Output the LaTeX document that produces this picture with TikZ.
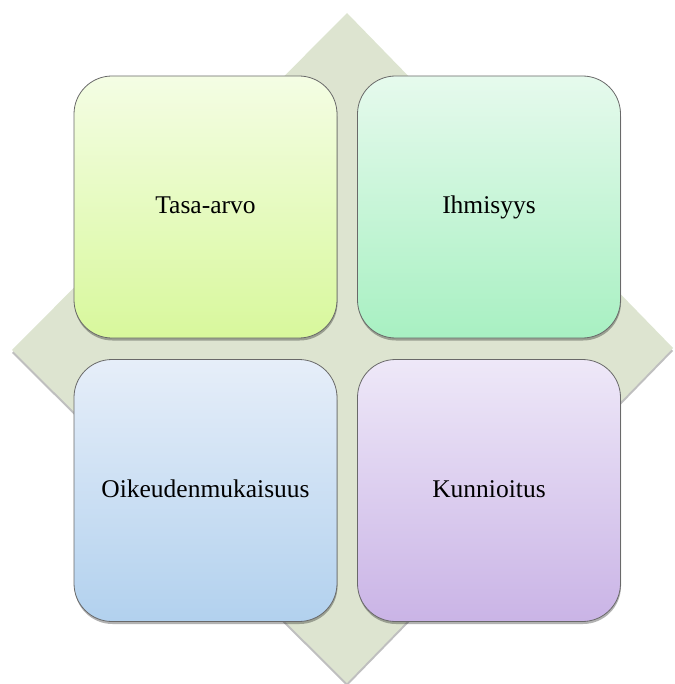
\documentclass[tikz,border=0pt]{standalone}
\usepackage{fontspec}
\setmainfont{Liberation Serif}
\usetikzlibrary{shadows}
\definecolor{diamfill}{RGB}{221,228,208}
\definecolor{boxline}{RGB}{105,105,105}
\definecolor{tlTop}{RGB}{244,253,228}
\definecolor{tlBot}{RGB}{216,248,156}
\definecolor{trTop}{RGB}{230,250,237}
\definecolor{trBot}{RGB}{168,240,194}
\definecolor{blTop}{RGB}{230,238,249}
\definecolor{blBot}{RGB}{178,209,238}
\definecolor{brTop}{RGB}{238,232,248}
\definecolor{brBot}{RGB}{202,180,230}
\begin{document}
\begin{tikzpicture}[x=1pt,y=-1pt,
  valuebox/.style={draw=boxline, line width=0.8pt, rounded corners=38pt,
    minimum width=263pt, minimum height=262pt, inner sep=0pt, align=center,
    text height=19pt, text depth=5pt,
    font=\fontsize{25.5}{30}\selectfont,
    drop shadow={shadow xshift=0.5pt, shadow yshift=-2.5pt, opacity=0.3, fill=black}},
  backdiamond/.style={fill=diamfill,
    drop shadow={shadow xshift=0pt, shadow yshift=-3pt, opacity=0.25, fill=black}}]
\useasboundingbox (0,0) rectangle (674,684);
\coordinate (dtop) at (347,13);
\coordinate (dright) at (673,348);
\coordinate (dbottom) at (347,683);
\coordinate (dleft) at (12,350);
\path[backdiamond] (dtop) -- (dright) -- (dbottom) -- (dleft) -- cycle;
\node[valuebox, top color=tlTop, bottom color=tlBot] (tl) at (205.5,207) {Tasa-arvo};
\node[valuebox, top color=trTop, bottom color=trBot] (tr) at (489,207) {Ihmisyys};
\node[valuebox, top color=blTop, bottom color=blBot] (bl) at (205.5,490.5) {Oikeudenmukaisuus};
\node[valuebox, top color=brTop, bottom color=brBot] (br) at (489,490.5) {Kunnioitus};
\end{tikzpicture}
\end{document}
